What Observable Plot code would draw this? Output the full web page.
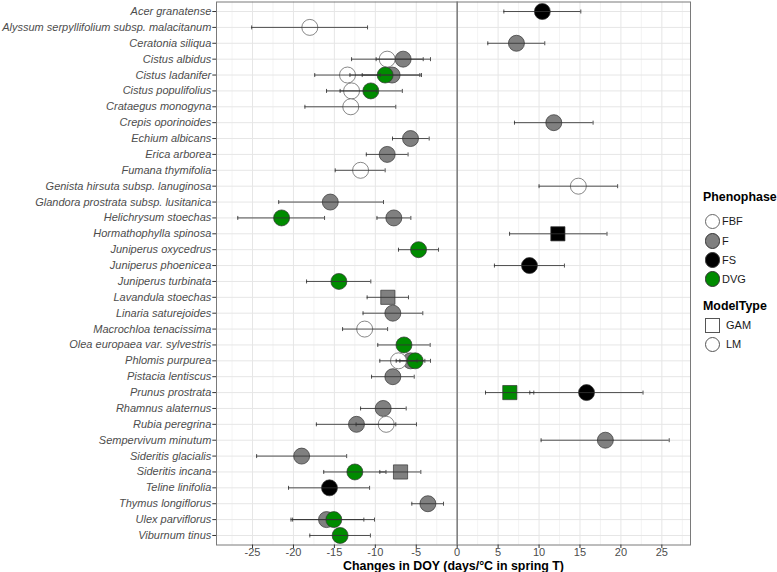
<!DOCTYPE html>
<html>
<head>
<meta charset="utf-8">
<script src="https://cdn.jsdelivr.net/npm/d3@7"></script>
<script src="https://cdn.jsdelivr.net/npm/@observablehq/plot@0.6"></script>
<style>
  html, body { margin: 0; padding: 0; background: #fff; }
  #wrap { position: relative; width: 777px; height: 572px; font-family: "Liberation Sans", Arial, sans-serif; }
  .lg-title { position: absolute; font-weight: bold; font-size: 12.4px; color: #000; line-height: 14px; }
  .lg-key { position: absolute; box-sizing: border-box; border: 0.9px solid #555; }
  .lg-lab { position: absolute; font-size: 11px; color: #1a1a1a; line-height: 12px; }
</style>
</head>
<body>
<div id="wrap"></div>
<script>
const species = [
  "Acer granatense",
  "Alyssum serpyllifolium subsp. malacitanum",
  "Ceratonia siliqua",
  "Cistus albidus",
  "Cistus ladanifer",
  "Cistus populifolius",
  "Crataegus monogyna",
  "Crepis oporinoides",
  "Echium albicans",
  "Erica arborea",
  "Fumana thymifolia",
  "Genista hirsuta subsp. lanuginosa",
  "Glandora prostrata subsp. lusitanica",
  "Helichrysum stoechas",
  "Hormathophylla spinosa",
  "Juniperus oxycedrus",
  "Juniperus phoenicea",
  "Juniperus turbinata",
  "Lavandula stoechas",
  "Linaria saturejoides",
  "Macrochloa tenacissima",
  "Olea europaea var. sylvestris",
  "Phlomis purpurea",
  "Pistacia lentiscus",
  "Prunus prostrata",
  "Rhamnus alaternus",
  "Rubia peregrina",
  "Sempervivum minutum",
  "Sideritis glacialis",
  "Sideritis incana",
  "Teline linifolia",
  "Thymus longiflorus",
  "Ulex parviflorus",
  "Viburnum tinus"
];

const phases = ["FBF", "F", "FS", "DVG"];
const phaseColors = ["#ffffff", "#808080", "#000000", "#008B00"];
const models = ["GAM", "LM"];

// one entry per estimate
const ptSpecies = [
  "Acer granatense",
  "Alyssum serpyllifolium subsp. malacitanum",
  "Ceratonia siliqua",
  "Cistus albidus", "Cistus albidus",
  "Cistus ladanifer", "Cistus ladanifer", "Cistus ladanifer",
  "Cistus populifolius", "Cistus populifolius",
  "Crataegus monogyna",
  "Crepis oporinoides",
  "Echium albicans",
  "Erica arborea",
  "Fumana thymifolia",
  "Genista hirsuta subsp. lanuginosa",
  "Glandora prostrata subsp. lusitanica",
  "Helichrysum stoechas", "Helichrysum stoechas",
  "Hormathophylla spinosa",
  "Juniperus oxycedrus",
  "Juniperus phoenicea",
  "Juniperus turbinata",
  "Lavandula stoechas",
  "Linaria saturejoides",
  "Macrochloa tenacissima",
  "Olea europaea var. sylvestris",
  "Phlomis purpurea", "Phlomis purpurea", "Phlomis purpurea",
  "Pistacia lentiscus",
  "Prunus prostrata", "Prunus prostrata",
  "Rhamnus alaternus",
  "Rubia peregrina", "Rubia peregrina",
  "Sempervivum minutum",
  "Sideritis glacialis",
  "Sideritis incana", "Sideritis incana",
  "Teline linifolia",
  "Thymus longiflorus",
  "Ulex parviflorus", "Ulex parviflorus",
  "Viburnum tinus"
];
const ptPhase = [
  "FS", "FBF", "F",
  "FBF", "F",
  "FBF", "F", "DVG",
  "FBF", "DVG",
  "FBF", "F", "F", "F", "FBF", "FBF", "F",
  "DVG", "F",
  "FS", "DVG", "FS", "DVG", "F", "F", "FBF", "DVG",
  "FBF", "F", "DVG",
  "F",
  "DVG", "FS",
  "F",
  "F", "FBF",
  "F", "F",
  "DVG", "F",
  "FS", "F",
  "F", "DVG",
  "DVG"
];
const ptModel = [
  "LM", "LM", "LM",
  "LM", "LM",
  "LM", "LM", "LM",
  "LM", "LM",
  "LM", "LM", "LM", "LM", "LM", "LM", "LM",
  "LM", "LM",
  "GAM", "LM", "LM", "LM", "GAM", "LM", "LM", "LM",
  "LM", "LM", "LM",
  "LM",
  "GAM", "LM",
  "LM",
  "LM", "LM",
  "LM", "LM",
  "LM", "GAM",
  "LM", "LM",
  "LM", "LM",
  "LM"
];
const ptEst = [
  10.4, -18.0, 7.24,
  -8.55, -6.6,
  -13.4, -7.95, -8.8,
  -12.9, -10.55,
  -13.0, 11.8, -5.7, -8.55, -11.8, 14.8, -15.5,
  -21.45, -7.74,
  12.3, -4.72, 8.83, -14.45, -8.47, -7.86, -11.3, -6.5,
  -7.17, -5.7, -5.13,
  -7.86,
  6.43, 15.8,
  -9.04,
  -12.3, -8.67,
  18.1, -19.0,
  -12.5, -6.92,
  -15.6, -3.58,
  -15.96, -15.07,
  -14.3
];
const ptLo = [
  5.7, -25.1, 3.74,
  -12.9, -9.9,
  -17.4, -11.6, -13.1,
  -15.96, -14.3,
  -18.6, 7.0, -7.9, -11.1, -14.9, 10.0, -21.8,
  -26.8, -9.8,
  6.4, -7.17, 4.55, -18.4, -11.0, -11.5, -14.0, -9.7,
  -9.45, -7.45, -7.0,
  -10.46,
  3.46, 8.87,
  -11.8,
  -17.2, -12.35,
  10.25, -24.5,
  -16.3, -9.45,
  -20.6, -5.54,
  -20.3, -20.1,
  -18.0
];
const ptHi = [
  15.1, -10.95, 10.7,
  -4.15, -3.26,
  -9.4, -4.36, -4.56,
  -9.84, -6.7,
  -7.5, 16.6, -3.42, -6.0, -8.8, 19.6, -9.0,
  -16.2, -5.66,
  18.3, -2.28, 13.1, -10.55, -5.95, -4.2, -8.5, -3.3,
  -4.9, -3.95, -3.26,
  -5.25,
  9.36, 22.7,
  -6.23,
  -7.5, -4.97,
  25.9, -13.5,
  -8.7, -4.44,
  -10.7, -1.67,
  -11.4, -10.1,
  -10.6
];

const majorTicks = [-25, -20, -15, -10, -5, 0, 5, 10, 15, 20, 25];
const minorTicks = [-27.5, -22.5, -17.5, -12.5, -7.5, -2.5, 2.5, 7.5, 12.5, 17.5, 22.5, 27.5];

const rows = ptSpecies.map((s, i) => ({
  species: s, phase: ptPhase[i], model: ptModel[i],
  est: ptEst[i], lo: ptLo[i], hi: ptHi[i]
}));
// drawing order: F under FBF under FS under DVG
const drawOrder = ["F", "FBF", "FS", "DVG"];
const dots = rows.slice().sort((a, b) => drawOrder.indexOf(a.phase) - drawOrder.indexOf(b.phase));

// small vertical end cap for the error bars
const capSymbol = { draw(context) { context.moveTo(0, -2); context.lineTo(0, 2); } };

const chart = Plot.plot({
  width: 777,
  height: 572,
  marginLeft: 216,
  marginRight: 87,
  marginTop: 1.5,
  marginBottom: 27.5,
  style: { fontFamily: "'Liberation Sans', Arial, sans-serif", fontSize: "11px", background: "white", overflow: "visible" },
  x: { domain: [-29.4, 28.5] },
  y: { type: "point", domain: species, padding: 0.6, round: false },
  color: { domain: phases, range: phaseColors },
  symbol: { domain: models, range: ["square", "circle"] },
  marks: [
    Plot.gridX(minorTicks, { stroke: "#ebebeb", strokeOpacity: 1, strokeWidth: 0.6 }),
    Plot.gridX(majorTicks, { stroke: "#e6e6e6", strokeOpacity: 1, strokeWidth: 1 }),
    Plot.gridY(species, { stroke: "#e6e6e6", strokeOpacity: 1, strokeWidth: 1 }),
    Plot.ruleX([0], { stroke: "#808080", strokeWidth: 1.6 }),
    Plot.dot(dots, {
      x: "est", y: "species", r: 8,
      fill: "phase", symbol: "model",
      stroke: d => d.phase === "FBF" ? "#555" : "#333",
      strokeWidth: 0.7
    }),
    Plot.ruleY(rows, { y: "species", x1: "lo", x2: "hi", stroke: "#333", strokeWidth: 1, strokeOpacity: 0.85 }),
    Plot.dot(rows, { x: "lo", y: "species", symbol: capSymbol, fill: "none", stroke: "#333", strokeWidth: 1, strokeOpacity: 0.85 }),
    Plot.dot(rows, { x: "hi", y: "species", symbol: capSymbol, fill: "none", stroke: "#333", strokeWidth: 1, strokeOpacity: 0.85 }),
    Plot.frame({ stroke: "#7a7a7a", strokeWidth: 1 }),
    Plot.axisY({
      tickSize: 3.7, tickPadding: 1.5, fontStyle: "italic",
      fill: "#4d4d4d", stroke: "#333", label: null
    }),
    Plot.axisX({
      ticks: majorTicks, tickFormat: d => `${d}`,
      tickSize: 3.5, tickPadding: 0, fill: "#4d4d4d", stroke: "#333",
      label: "Changes in DOY (days/°C in spring T)", labelAnchor: "center",
      labelArrow: "none", labelOffset: 24.5
    })
  ]
});
// bold, larger axis title
chart.querySelectorAll("g[aria-label='x-axis label'] text").forEach(t => {
  t.style.fontWeight = "bold";
  t.style.fontSize = "12.4px";
  t.setAttribute("fill", "#000");
});

const wrap = document.getElementById("wrap");
wrap.appendChild(chart);
chart.style.position = "absolute";
chart.style.left = "0px";
chart.style.top = "0px";

// legend (HTML)
function add(cls, css, text) {
  const el = document.createElement("div");
  el.className = cls;
  Object.assign(el.style, css);
  if (text) el.textContent = text;
  wrap.appendChild(el);
  return el;
}
add("lg-title", { left: "703px", top: "190px" }, "Phenophase");
const phaseY = [221.7, 241, 260, 279];
phases.forEach((p, i) => {
  const r = 7.6;
  add("lg-key", {
    left: (712.7 - r) + "px", top: (phaseY[i] - r) + "px",
    width: 2 * r + "px", height: 2 * r + "px", borderRadius: "50%",
    background: phaseColors[i], borderColor: p === "FBF" ? "#666" : "#333"
  });
  add("lg-lab", { left: "722px", top: (phaseY[i] - 6.5) + "px" }, p);
});
add("lg-title", { left: "703px", top: "299px" }, "ModelType");
const modelY = [325.3, 344.7];
models.forEach((m, i) => {
  const r = 7.6;
  add("lg-key", {
    left: (712.7 - r) + "px", top: (modelY[i] - r) + "px",
    width: 2 * r + "px", height: 2 * r + "px",
    borderRadius: m === "LM" ? "50%" : "0", background: "#fff", borderColor: "#555"
  });
  add("lg-lab", { left: "726px", top: (modelY[i] - 6.5) + "px" }, m);
});
</script>
</body>
</html>
